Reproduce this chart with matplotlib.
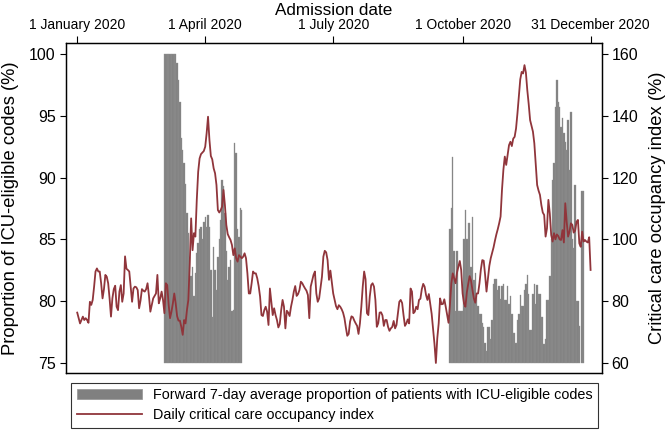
import matplotlib
matplotlib.use('Agg')
import matplotlib.pyplot as plt
from matplotlib.patches import Patch
from matplotlib.lines import Line2D
import numpy as np
import pandas as pd

plt.rcParams['font.family'] = ['Liberation Sans', 'DejaVu Sans']

year_start = pd.Timestamp('2020-01-01')

# daily critical care occupancy index (%), 1 Jan - 31 Dec 2020
occupancy = [
    76.3, 74.5, 72.8, 73.9, 75.0, 73.9, 74.5, 73.9, 73.0, 79.8,
    78.8, 80.4, 84.7, 89.6, 90.6, 89.6, 89.6, 85.8, 80.9, 83.9,
    88.5, 87.9, 85.8, 80.9, 75.0, 80.9, 83.9, 85.0, 78.2, 77.1,
    83.1, 85.2, 79.8, 82.5, 94.5, 90.5, 90.1, 89.6, 84.7, 79.8,
    84.1, 84.7, 84.5, 83.6, 77.7, 80.2, 83.9, 83.4, 83.1, 83.9,
    85.8, 81.7, 76.6, 78.8, 80.9, 81.7, 82.5, 88.5, 79.3, 80.9,
    83.1, 80.4, 76.1, 85.8, 85.2, 78.8, 74.5, 76.6, 79.3, 82.5,
    79.3, 75.2, 73.7, 73.7, 71.7, 69.1, 73.9, 72.8, 77.1, 80.4,
    92.2, 106.8, 96.5, 102.0, 100.9, 112.8, 121.9, 126.2, 127.6, 128.1,
    128.6, 130.0, 134.3, 139.7, 132.2, 127.0, 125.9, 123.0, 121.4, 117.6,
    109.5, 108.7, 109.5, 110.6, 116.0, 111.1, 104.7, 101.7, 100.7, 99.8,
    98.2, 94.9, 97.1, 93.9, 92.8, 94.9, 94.4, 93.9, 94.4, 95.5,
    93.9, 89.0, 82.5, 82.5, 85.8, 89.6, 89.0, 89.0, 87.4, 84.9,
    81.5, 75.5, 75.2, 77.1, 78.2, 76.6, 72.3, 84.1, 79.8, 75.5,
    77.7, 75.5, 73.9, 71.5, 72.6, 77.1, 80.4, 78.2, 71.2, 76.9,
    76.3, 75.2, 78.2, 80.4, 83.1, 84.9, 81.7, 82.3, 83.6, 86.3,
    85.8, 84.9, 84.1, 83.4, 82.0, 74.5, 84.7, 86.6, 88.5, 89.6,
    82.5, 79.8, 80.9, 84.5, 87.9, 94.4, 96.3, 95.8, 93.3, 86.9,
    89.9, 86.3, 82.5, 80.4, 78.4, 77.4, 78.7, 78.2, 77.4, 76.3,
    74.5, 71.5, 68.8, 69.4, 73.4, 75.1, 74.8, 73.7, 72.8, 72.0,
    69.4, 72.8, 78.2, 84.7, 89.6, 87.1, 76.1, 75.5, 81.5, 85.2,
    85.8, 84.7, 80.4, 71.7, 72.8, 76.3, 76.4, 75.4, 72.0, 73.9,
    73.9, 71.7, 70.4, 71.2, 71.7, 73.6, 71.2, 72.3, 76.1, 79.8,
    80.4, 79.4, 75.5, 72.0, 72.8, 74.1, 72.8, 84.1, 83.1, 76.1,
    76.6, 78.2, 77.4, 80.4, 80.8, 83.9, 85.6, 84.7, 82.0, 80.4,
    82.3, 79.1, 75.9, 71.2, 66.2, 60.0, 68.0, 72.8, 80.9, 79.0,
    79.1, 80.6, 78.2, 75.5, 73.0, 78.8, 85.8, 89.0, 87.4, 85.8,
    89.2, 91.2, 93.0, 90.1, 82.5, 79.3, 78.2, 82.8, 85.6, 88.1,
    86.6, 83.6, 80.9, 79.5, 82.5, 82.5, 85.8, 90.3, 93.3, 93.1,
    88.5, 83.1, 87.4, 91.4, 93.9, 95.7, 97.4, 99.6, 101.6, 103.3,
    105.2, 107.4, 116.0, 122.5, 126.8, 124.1, 127.3, 130.5, 131.6, 130.2,
    132.6, 133.2, 135.9, 140.8, 146.2, 151.8, 154.2, 153.7, 156.4, 154.0,
    148.3, 143.8, 138.6, 136.7, 134.9, 131.1, 124.1, 117.6, 115.8, 114.4,
    111.1, 108.7, 107.9, 100.9, 103.6, 112.8, 108.4, 101.4, 99.3, 102.0,
    100.0, 101.6, 101.1, 100.0, 99.8, 103.0, 99.0, 111.7, 105.7, 100.9,
    102.5, 105.2, 104.7, 102.2, 102.8, 105.7, 106.3, 98.7, 97.6, 102.5,
    99.3, 99.8, 99.3, 99.0, 100.7, 90.1,
]

# forward 7-day average proportion with ICU-eligible codes (%)
wave1_start = '2020-03-03'
wave1_prop = [
    100, 100, 100, 100, 100, 100, 100, 100, 100,
    99.3, 97.9, 96.1, 93.2, 92.2, 91.2, 89.5, 87.1, 85.5, 83.6,
    82.0, 82.8, 80.4, 82.3, 83.9, 84.7, 85.8, 86.0, 85.0, 86.4,
    86.8, 86.0, 87.0, 86.0, 82.5, 78.7, 84.4, 82.5, 80.9, 83.6,
    85.0, 86.6, 89.8, 89.3, 87.1, 84.1, 81.7, 82.8, 83.3, 79.2,
    79.3, 92.8, 92.0, 85.8, 85.2, 87.5, 87.4,
]
wave2_start = '2020-09-22'
wave2_prop = [
    85.8, 87.5, 91.7, 84.1, 79.2, 84.1, 79.2, 79.2, 79.2, 79.2,
    85.0, 87.4, 85.0, 86.3, 86.3, 82.8, 86.8, 81.7, 82.3, 80.4,
    79.6, 79.0, 79.0, 78.2, 77.9, 76.6, 76.0, 77.9, 77.9, 76.9,
    78.5, 81.4, 81.8, 81.8, 80.9, 81.2, 80.2, 81.2, 81.4, 80.1,
    80.1, 81.2, 79.8, 80.4, 79.0, 77.4, 77.4, 76.6, 78.5, 79.0,
    80.5, 79.6, 79.6, 80.9, 81.4, 82.1, 80.6, 77.7, 77.7, 80.6,
    81.4, 79.8, 81.3, 80.6, 80.6, 78.7, 78.7, 76.5, 76.9, 80.1,
    80.1, 82.0, 85.0, 89.8, 91.2, 95.7, 97.9, 96.1, 95.7, 94.1,
    94.8, 93.6, 92.9, 92.2, 94.7, 90.6, 95.3, 85.0, 84.3, 89.4,
    80.0, 80.0, 78.0, np.nan, 88.9, 88.9,
]

tick_dates = ['2020-01-01', '2020-04-01', '2020-07-01', '2020-10-01', '2020-12-31']
tick_labels = ['1 January 2020', '1 April 2020', '1 July 2020',
               '1 October 2020', '31 December 2020']

bar_col = '#808080'
bar_edge = '#939393'
line_col = '#90353b'


def day_of(s):
    return (pd.Timestamp(s) - year_start).days


fig = plt.figure(figsize=(6.69, 4.34), dpi=100)
ax = fig.add_axes([0.0982, 0.1406, 0.8012, 0.7603])
ax2 = ax.twinx()

for start, vals in [(wave1_start, wave1_prop), (wave2_start, wave2_prop)]:
    vals = np.array(vals, dtype=float)
    x = day_of(start) + np.arange(len(vals))
    ok = np.isfinite(vals)
    ax.bar(x[ok], vals[ok] - 75, bottom=75, width=1.0, color=bar_col,
           edgecolor=bar_edge, linewidth=0.25)

days = np.arange(len(occupancy))
ax2.plot(days, occupancy, color=line_col, lw=1.3)

ax.set_xlim(-8.2, 372.9)
ax.set_ylim(74.19, 100.89)
ax2.set_ylim(56.76, 163.56)

ax.set_yticks([75, 80, 85, 90, 95, 100])
ax2.set_yticks([60, 80, 100, 120, 140, 160])
ax.set_xticks([day_of(d) for d in tick_dates])
ax.set_xticklabels(tick_labels)
ax.xaxis.tick_top()
ax.xaxis.set_label_position('top')
ax.set_xlabel('Admission date', fontsize=12.3, labelpad=2)

ax.set_ylabel('Proportion of ICU-eligible codes (%)', fontsize=13.2, labelpad=7)
ax2.set_ylabel('Critical care occupancy index (%)', fontsize=13.2, labelpad=8)

ax.tick_params(axis='x', length=5, width=0.8, labelsize=10, pad=3)
ax.tick_params(axis='y', length=4.1, width=0.8, labelsize=11.5, pad=3)
ax2.tick_params(axis='y', length=4.1, width=0.8, labelsize=11.5, pad=3)
for a in (ax, ax2):
    for s in a.spines.values():
        s.set_linewidth(0.9)

handles = [Patch(facecolor=bar_col, edgecolor=bar_edge, linewidth=0.5),
           Line2D([0], [0], color=line_col, lw=1.3)]
labels = ['Forward 7-day average proportion of patients with ICU-eligible codes',
          'Daily critical care occupancy index']
leg = fig.legend(handles, labels, loc='lower left',
                 bbox_to_anchor=(0.106, 0.014, 0.788, 0.108), mode='expand',
                 fancybox=False, edgecolor='black', fontsize=10.4,
                 handlelength=4.5, borderaxespad=0, labelspacing=0.4,
                 borderpad=0.4, handletextpad=0.8)
leg.get_frame().set_linewidth(0.8)

fig.savefig('out.png', dpi=100)
